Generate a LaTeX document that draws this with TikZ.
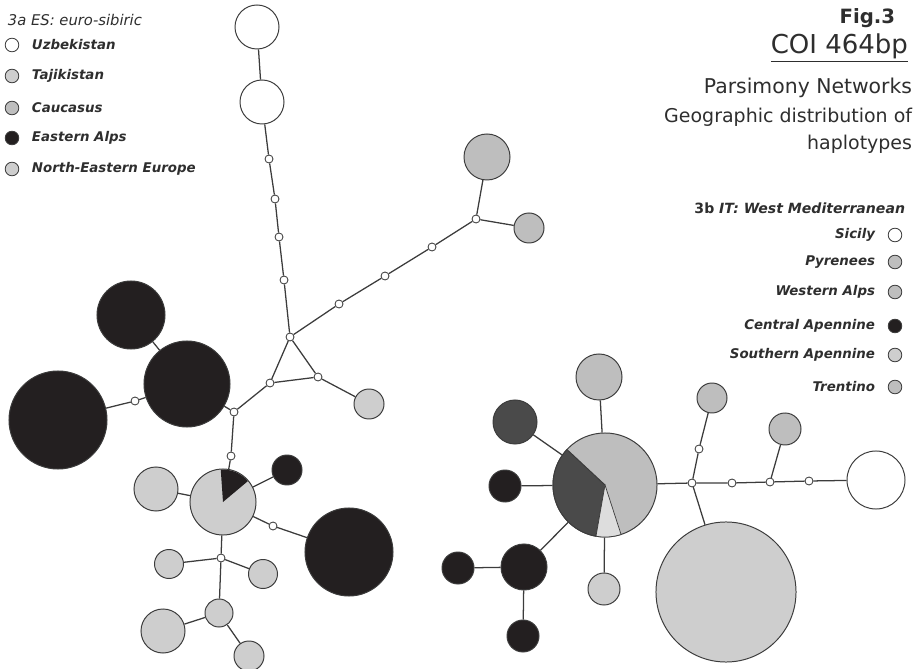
\documentclass[tikz,border=0pt]{standalone}
\usepackage{fontspec}
\setmainfont{DejaVu Sans}
\definecolor{lgray}{HTML}{CECECE}
\definecolor{mgray}{HTML}{BEBEBE}
\definecolor{dgray}{HTML}{4A4A4A}
\definecolor{hblack}{HTML}{231F20}
\definecolor{edgegray}{HTML}{3C3C3C}
\definecolor{txtgray}{HTML}{2E2E2E}

\begin{document}
\begin{tikzpicture}[x=0.025cm,y=-0.025cm]
\tikzset{hap/.style={circle,draw=edgegray,line width=0.7pt,inner sep=0pt,minimum size=#1*0.05cm}}
\tikzstyle{mv} = [circle,draw=edgegray,fill=white,line width=0.6pt,inner sep=0pt,minimum size=0.2cm]
\tikzstyle{link} = [draw=edgegray,line width=0.9pt]
\tikzstyle{leg} = [font=\fontsize{9.5}{11}\selectfont\itshape\bfseries,text=txtgray]
\tikzstyle{legdot} = [circle,draw=edgegray,line width=0.6pt,inner sep=0pt,minimum size=0.34cm]
\useasboundingbox (0,0) rectangle (922,669);

% 3a ES network
\node[hap=22,fill=white] (u1) at (257,27) {};
\node[hap=22,fill=white] (u2) at (262,102) {};
\node[mv] (m1) at (269,159) {};
\node[mv] (m2) at (275,199) {};
\node[mv] (m3) at (279,237) {};
\node[mv] (m4) at (284,280) {};
\node[mv] (j1) at (290,337) {};
\node[mv] (m5) at (339,304) {};
\node[mv] (m6) at (385,276) {};
\node[mv] (m7) at (432,247) {};
\node[mv] (j2) at (476,219) {};
\node[hap=23,fill=mgray] (h1) at (487,157) {};
\node[hap=15,fill=mgray] (h2) at (529,228) {};
\node[mv] (t1) at (270,383) {};
\node[mv] (t2) at (318,377) {};
\node[hap=15,fill=lgray] (g1) at (369,404) {};
\node[mv] (j3) at (234,412) {};
\node[hap=34,fill=hblack] (b1) at (131,315) {};
\node[hap=43,fill=hblack] (b2) at (187,384) {};
\node[hap=49,fill=hblack] (b3) at (58,420) {};
\node[mv] (m8) at (135,401) {};
\node[mv] (m9) at (231,456) {};
\node[hap=33,fill=lgray] (p1) at (223,502) {};
\node[hap=22,fill=lgray] (g2) at (156,489) {};
\node[hap=15,fill=hblack] (b4) at (287,470) {};
\node[mv] (m10) at (273,526) {};
\node[hap=44,fill=hblack] (b5) at (349,552) {};
\node[mv] (j4) at (221,558) {};
\node[hap=14.5,fill=lgray] (g3) at (169,564) {};
\node[hap=14.5,fill=lgray] (g4) at (263,574) {};
\node[hap=14,fill=lgray] (g5) at (219,613) {};
\node[hap=22,fill=lgray] (g6) at (163,631) {};
\node[hap=15,fill=lgray] (g7) at (249,656) {};
\fill[hblack] (p1.center) -- ++(40:0.81cm) arc[start angle=40,end angle=94,radius=0.81cm] -- cycle;

\draw[link] (u1) -- (u2) -- (m1) -- (m2) -- (m3) -- (m4) -- (j1);
\draw[link] (j1) -- (m5) -- (m6) -- (m7) -- (j2);
\draw[link] (j2) -- (h1);
\draw[link] (j2) -- (h2);
\draw[link] (j1) -- (t1) -- (t2) -- (j1);
\draw[link] (t2) -- (g1);
\draw[link] (t1) -- (j3) -- (b2) -- (b1);
\draw[link] (b2) -- (m8) -- (b3);
\draw[link] (j3) -- (m9) -- (p1);
\draw[link] (p1) -- (g2);
\draw[link] (p1) -- (b4);
\draw[link] (p1) -- (m10) -- (b5);
\draw[link] (p1) -- (j4);
\draw[link] (j4) -- (g3);
\draw[link] (j4) -- (g4);
\draw[link] (j4) -- (g5) -- (g6);
\draw[link] (g5) -- (g7);

% 3b IT network
\node[hap=52,fill=mgray] (p2) at (605,485) {};
\node[hap=23,fill=mgray] (q1) at (599,377) {};
\node[hap=22,fill=dgray] (d1) at (515,422) {};
\node[hap=16,fill=hblack] (k1) at (505,486) {};
\node[hap=23,fill=hblack] (k2) at (524,567) {};
\node[hap=16,fill=hblack] (k3) at (458,568) {};
\node[hap=16,fill=hblack] (k4) at (523,636) {};
\node[hap=16,fill=lgray] (q2) at (604,589) {};
\node[mv] (j5) at (692,483) {};
\node[mv] (n1) at (699,449) {};
\node[hap=15,fill=mgray] (q3) at (712,398) {};
\node[hap=70,fill=lgray] (q4) at (726,592) {};
\node[mv] (n2) at (732,483) {};
\node[mv] (j6) at (770,482) {};
\node[hap=16,fill=mgray] (q5) at (785,429) {};
\node[mv] (n3) at (809,481) {};
\node[hap=29,fill=white] (w1) at (876,480) {};
\filldraw[fill=dgray,draw=edgegray,line width=0.7pt] (p2.center) -- ++(137:1.3cm) arc[start angle=137,end angle=260,radius=1.3cm] -- cycle;
\filldraw[fill=lgray!70,draw=edgegray,line width=0.5pt] (p2.center) -- ++(260:1.3cm) arc[start angle=260,end angle=288,radius=1.3cm] -- cycle;

\draw[link] (p2) -- (q1);
\draw[link] (p2) -- (d1);
\draw[link] (p2) -- (k1);
\draw[link] (p2) -- (k2) -- (k3);
\draw[link] (k2) -- (k4);
\draw[link] (p2) -- (q2);
\draw[link] (p2) -- (j5) -- (n1) -- (q3);
\draw[link] (j5) -- (q4);
\draw[link] (j5) -- (n2) -- (j6) -- (n3) -- (w1);
\draw[link] (j6) -- (q5);

% legend 3a
\node[anchor=west,font=\fontsize{10.5}{12}\selectfont\itshape,text=txtgray] (esttl) at (3,20) {3a ES: euro-sibiric};
\foreach \nm/\col/\yy/\txt in {uz/white/45/Uzbekistan,tj/lgray/76/Tajikistan,ca/mgray/108/Caucasus,ea/hblack/138/Eastern Alps,ne/lgray/169/North-Eastern Europe}{
  \node[legdot,fill=\col] (d\nm) at (12,\yy) {};
  \node[leg,anchor=west] (l\nm) at (27,\yy) {\txt};
}

% titles
\node[anchor=east,font=\fontsize{14}{16}\selectfont\bfseries,text=txtgray] (fig) at (900,18) {Fig.3};
\node[anchor=east,font=\fontsize{18.5}{20}\selectfont,text=txtgray] (coi) at (913,48) {\underline{COI 464bp}};
\node[anchor=east,font=\fontsize{14.5}{17}\selectfont,text=txtgray] (pars) at (917,88) {Parsimony Networks};
\node[anchor=east,align=right,font=\fontsize{13.5}{19.5}\selectfont,text=txtgray] (geo) at (917,131) {Geographic distribution of\\haplotypes};

% legend 3b
\node[anchor=east,font=\fontsize{10}{12}\selectfont\bfseries,text=txtgray] (ittl) at (910,208) {3b \textit{IT: West Mediterranean}};
\foreach \nm/\col/\yy/\txt in {si/white/235/Sicily,py/mgray/262/Pyrenees,wa/mgray/292/Western Alps,ce/hblack/326/Central Apennine,sa/lgray/355/Southern Apennine,tr/mgray/387/Trentino}{
  \node[legdot,fill=\col] (d\nm) at (895,\yy) {};
  \node[leg,anchor=east] (l\nm) at (880,\yy) {\txt};
}
\end{tikzpicture}
\end{document}
